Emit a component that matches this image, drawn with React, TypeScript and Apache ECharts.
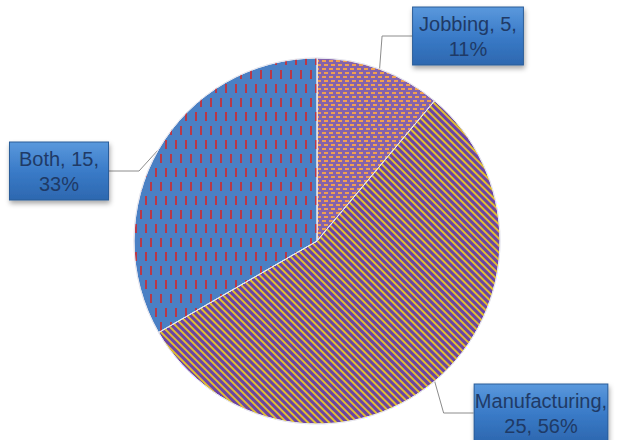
import React, { useEffect, useRef } from "react";
import * as echarts from "echarts";

const categories = ["Jobbing", "Manufacturing", "Both"];
const values = [5, 25, 15];

const baseColors = ["#8462ac", "#6a42a6", "#4a80c4"];
const labelPos = [
  { x: 468, y: 36 },
  { x: 541, y: 413 },
  { x: 59, y: 171 },
];
const labelPadding = [
  [4, 6, 3, 6],
  [4, 14, 3, 14],
  [4, 9, 3, 9],
];

export default function App() {
  const ref = useRef<HTMLDivElement>(null);
  useEffect(() => {
    document.body.style.margin = "0";
    const chart = echarts.init(ref.current!, null, { renderer: "svg" });
    const decals = [
      {
        symbol: "rect",
        color: "#f0a050",
        dashArrayX: [[4, 3], [0, 2, 4, 1]],
        dashArrayY: [2, 2],
        symbolSize: 1,
      },
      {
        symbol: "rect",
        color: "#e0c030",
        dashArrayX: [[1, 0]],
        dashArrayY: [2, 2.5],
        rotation: Math.PI / 4,
        symbolSize: 1,
      },
      {
        symbol: "rect",
        color: "#b83848",
        dashArrayX: [[2, 8], [0, 5, 2, 3]],
        dashArrayY: [9, 5],
        symbolSize: 1,
      },
    ];
    const labelBg = {
      type: "linear",
      x: 0,
      y: 0,
      x2: 0,
      y2: 1,
      colorStops: [
        { offset: 0, color: "#5a98dc" },
        { offset: 0.5, color: "#3a7bc8" },
        { offset: 1, color: "#2d68b0" },
      ],
    };
    chart.setOption({
      animation: false,
      backgroundColor: "#ffffff",
      series: [
        {
          type: "pie",
          center: [317, 241],
          radius: 183,
          startAngle: 90,
          clockwise: true,
          percentPrecision: 0,
          data: categories.map((name, i) => ({
            name,
            value: values[i],
            itemStyle: { color: baseColors[i], decal: decals[i] },
            label: { padding: labelPadding[i] },
          })),
          itemStyle: { borderColor: "#e8e8f0", borderWidth: 1 },
          label: {
            show: true,
            position: "outside",
            overflow: "none",
            formatter: (p: any) =>
              p.name.length > 8
                ? `${p.name},\n${p.value}, ${p.percent}%`
                : `${p.name}, ${p.value},\n${p.percent}%`,
            color: "#1f3a66",
            fontFamily: "Liberation Sans, Arial, sans-serif",
            fontSize: 20,
            lineHeight: 25,
            align: "center",
            backgroundColor: labelBg,
            borderColor: "#2a5c98",
            borderWidth: 1,
            shadowColor: "rgba(0,0,0,0.35)",
            shadowBlur: 5,
            shadowOffsetX: 1,
            shadowOffsetY: 3,
          },
          labelLine: {
            show: true,
            lineStyle: { color: "#8c8c8c", width: 1 },
          },
          labelLayout: (params: any) => {
            const p = labelPos[params.dataIndex];
            return { x: p.x, y: p.y, align: "center", verticalAlign: "middle" };
          },
        },
      ],
    });
    return () => chart.dispose();
  }, []);
  return <div ref={ref} style={{ width: 622, height: 440 }} />;
}
